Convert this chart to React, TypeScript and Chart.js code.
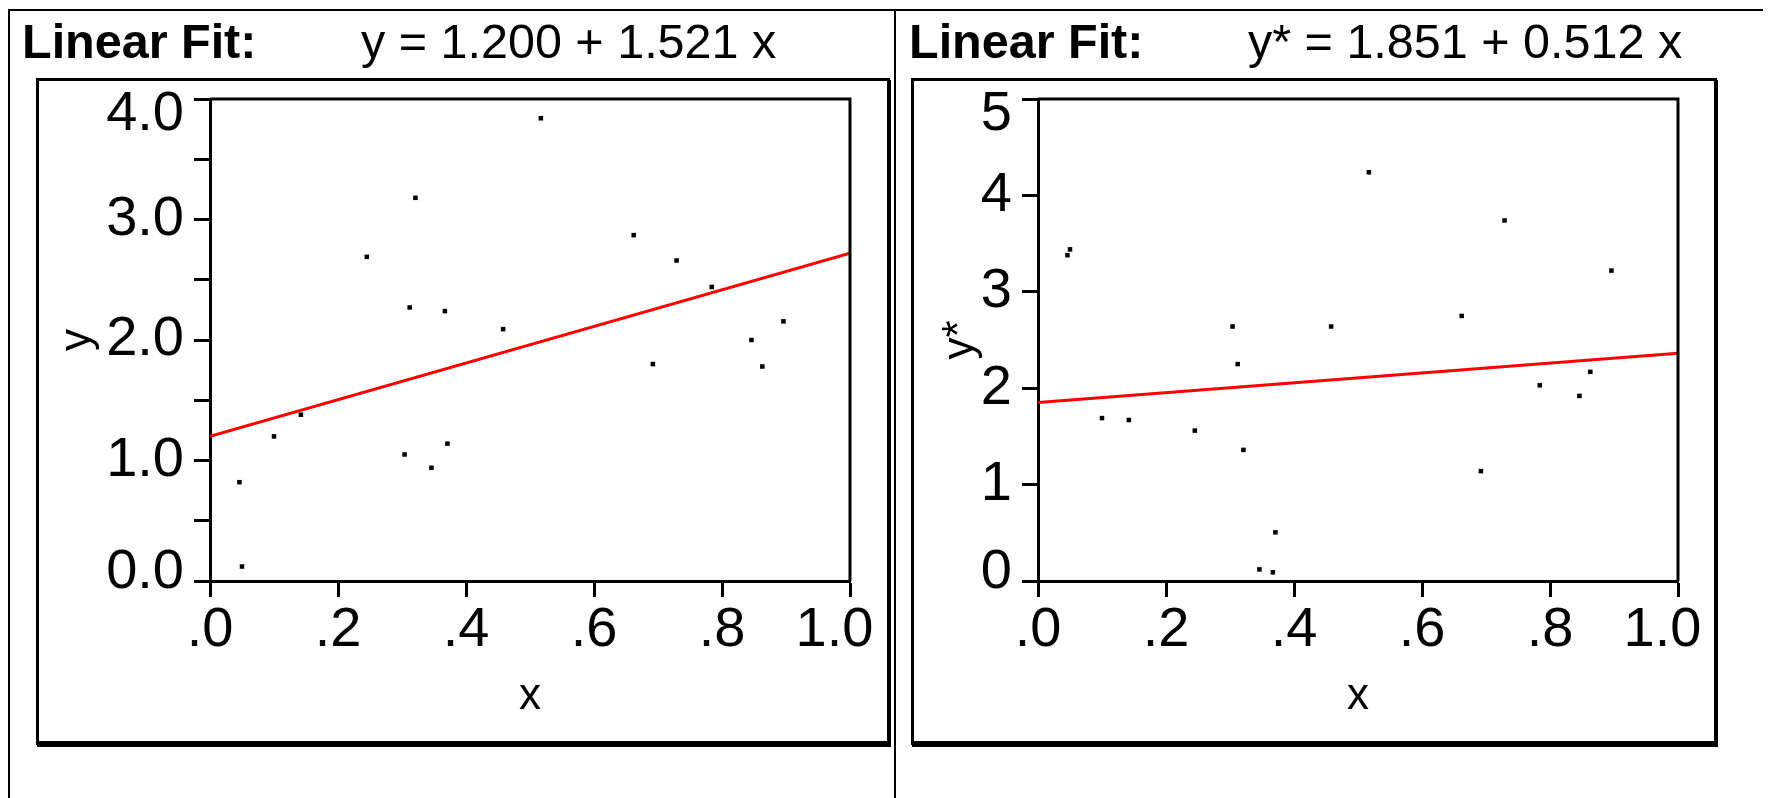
import React, { useEffect, useRef } from 'react';
import { Chart, registerables } from 'chart.js';

Chart.register(...registerables);

// ---- data ----
const xValues = [0.046, 0.050, 0.100, 0.142, 0.245, 0.304, 0.312, 0.321, 0.346, 0.367, 0.371, 0.458, 0.517, 0.662, 0.692, 0.729, 0.784, 0.846, 0.863, 0.896];
const yValues = [0.82, 0.12, 1.20, 1.38, 2.69, 1.05, 2.27, 3.18, 0.94, 2.24, 1.14, 2.09, 3.84, 2.87, 1.80, 2.66, 2.44, 2.00, 1.78, 2.155];
const yStarValues = [3.38, 3.44, 1.69, 1.67, 1.56, 2.64, 2.25, 1.36, 0.12, 0.09, 0.505, 2.64, 4.24, 2.75, 1.14, 3.74, 2.03, 1.92, 2.17, 3.22];

const fitX = [0, 1];
const fitY = [1.200, 2.721];
const fitYStar = [1.851, 2.363];

const xTickLabels = ['.0', '.2', '.4', '.6', '.8', '1.0'];
const yTickLabels = ['0.0', '1.0', '2.0', '3.0', '4.0'];
const yStarTickLabels = ['0', '1', '2', '3', '4', '5'];

const headingLeft = 'Linear Fit:';
const equationLeft = 'y = 1.200 + 1.521 x';
const equationRight = 'y* = 1.851 + 0.512 x';

const FONT = "'Liberation Sans', Arial, Helvetica, sans-serif";

const framePlugin = {
  id: 'frameTopRight',
  afterDatasetsDraw(chart: any) {
    const { ctx, chartArea } = chart;
    const { left, top, right, bottom } = chartArea;
    ctx.save();
    ctx.strokeStyle = '#000';
    ctx.lineWidth = 3;
    ctx.beginPath();
    ctx.moveTo(left, top);
    ctx.lineTo(right, top);
    ctx.lineTo(right, bottom);
    ctx.stroke();
    ctx.restore();
  },
};

interface PanelCfg {
  ys: number[];
  fit: number[];
  yMax: number;
  yStep: number;
  yLabels: string[];
  yTitle: string;
  yAxisWidth: number;
  yTitlePad: number;
  padRight: number;
}

function makeConfig(p: PanelCfg): any {
  const lastX = xTickLabels.length - 1;
  return {
    type: 'scatter',
    data: {
      datasets: [
        {
          label: 'fit',
          data: fitX.map((x, i) => ({ x, y: p.fit[i] })),
          showLine: true,
          borderColor: '#ff0000',
          borderWidth: 3,
          pointRadius: 0,
          fill: false,
          order: 2,
        },
        {
          label: 'points',
          data: xValues.map((x, i) => ({ x, y: p.ys[i] })),
          pointRadius: 3.2,
          pointStyle: 'rect',
          backgroundColor: '#000',
          borderColor: '#000',
          borderWidth: 0,
          order: 1,
        },
      ],
    },
    options: {
      animation: false,
      responsive: false,
      devicePixelRatio: 1,
      events: [],
      layout: { padding: { left: 0, right: p.padRight, top: 18, bottom: 0 } },
      plugins: { legend: { display: false }, tooltip: { enabled: false } },
      scales: {
        x: {
          type: 'linear',
          position: 'bottom',
          min: 0,
          max: 1,
          ticks: {
            stepSize: 0.2,
            autoSkip: false,
            maxRotation: 0,
            padding: 0,
            color: '#000',
            font: { family: FONT, size: 56 },
            callback: (_v: any, i: number) => (i === lastX ? xTickLabels[i] + '  ' : xTickLabels[i]),
          },
          grid: {
            drawOnChartArea: false,
            drawTicks: true,
            tickLength: 16,
            tickWidth: 3,
            tickColor: '#000',
            color: '#000',
          },
          border: { display: true, color: '#000', width: 3 },
          title: {
            display: true,
            text: 'x',
            color: '#000',
            font: { family: FONT, size: 44 },
            padding: { top: 0, bottom: 18 },
          },
          afterFit: (s: any) => {
            s.height = 160;
            s.paddingLeft = 0;
            s.paddingRight = 0;
          },
        },
        y: {
          type: 'linear',
          position: 'left',
          min: 0,
          max: p.yMax,
          ticks: {
            stepSize: p.yStep,
            autoSkip: false,
            padding: 10,
            color: '#000',
            font: (ctx: any) => {
              const v = ctx.tick ? ctx.tick.value : null;
              if (v === p.yMax) return { family: FONT, size: 56, lineHeight: '32px' };
              if (v === 0) return { family: FONT, size: 56, lineHeight: '16px' };
              return { family: FONT, size: 56 };
            },
            callback: (v: any) => {
              if (!Number.isInteger(v)) return '';
              const lbl = p.yLabels[v];
              if (v === p.yMax) return ['', lbl];
              if (v === 0) return [lbl, ''];
              return lbl;
            },
          },
          grid: {
            drawOnChartArea: false,
            drawTicks: true,
            tickLength: 16,
            tickWidth: 3,
            tickColor: '#000',
            color: '#000',
          },
          border: { display: true, color: '#000', width: 3 },
          title: {
            display: true,
            text: p.yTitle,
            color: '#000',
            font: { family: FONT, size: 44 },
            padding: { top: p.yTitlePad, bottom: 0 },
          },
          afterFit: (s: any) => {
            s.width = p.yAxisWidth;
            s.paddingTop = 0;
            s.paddingBottom = 0;
          },
        },
      },
    },
    plugins: [framePlugin],
  };
}

function ChartPanel({ cfg, width, height, left, top }: { cfg: PanelCfg; width: number; height: number; left: number; top: number }) {
  const ref = useRef<HTMLCanvasElement | null>(null);
  useEffect(() => {
    if (!ref.current) return;
    const chart = new Chart(ref.current, makeConfig(cfg));
    return () => chart.destroy();
  }, []);
  return (
    <canvas
      ref={ref}
      width={width}
      height={height}
      style={{ position: 'absolute', left, top, width, height, display: 'block' }}
    />
  );
}

const leftCfg: PanelCfg = {
  ys: yValues,
  fit: fitY,
  yMax: 4,
  yStep: 0.5,
  yLabels: yTickLabels,
  yTitle: 'y',
  yAxisWidth: 171,
  yTitlePad: 12,
  padRight: 37,
};

const rightCfg: PanelCfg = {
  ys: yStarValues,
  fit: fitYStar,
  yMax: 5,
  yStep: 1,
  yLabels: yStarTickLabels,
  yTitle: 'y*',
  yAxisWidth: 124,
  yTitlePad: 20,
  padRight: 36,
};

export default function App() {
  useEffect(() => {
    document.documentElement.style.overflow = 'hidden';
    document.body.style.overflow = 'hidden';
  }, []);

  const headStyle: React.CSSProperties = {
    position: 'absolute',
    top: 9,
    fontFamily: FONT,
    fontSize: 48.5,
    lineHeight: '48px',
    color: '#000',
    whiteSpace: 'nowrap',
    margin: 0,
  };
  const boxStyle: React.CSSProperties = {
    position: 'absolute',
    top: 70,
    height: 667,
    boxSizing: 'border-box',
    borderStyle: 'solid',
    borderColor: '#000',
    borderWidth: '3px 3px 4px 3px',
    boxShadow: '1px 2px 0 0 #000',
  };
  return (
    <div style={{ position: 'relative', width: 1763, height: 790, overflow: 'hidden', background: '#fff' }}>
      {/* table lines */}
      <div style={{ position: 'absolute', left: 0, top: 1, width: 1763, height: 2, background: '#000' }} />
      <div style={{ position: 'absolute', left: 0, top: 1, width: 2, height: 789, background: '#000' }} />
      <div style={{ position: 'absolute', left: 886, top: 1, width: 2, height: 789, background: '#000' }} />

      {/* headings */}
      <div style={{ ...headStyle, left: 14, fontWeight: 'bold' }}>{headingLeft}</div>
      <div style={{ ...headStyle, left: 353 }}>{equationLeft}</div>
      <div style={{ ...headStyle, left: 901, fontWeight: 'bold' }}>{headingLeft}</div>
      <div style={{ ...headStyle, left: 1240 }}>{equationRight}</div>

      {/* inner boxes */}
      <div style={{ ...boxStyle, left: 28, width: 854 }} />
      <div style={{ ...boxStyle, left: 903, width: 806 }} />

      <ChartPanel cfg={leftCfg} left={31} top={73} width={848} height={660} />
      <ChartPanel cfg={rightCfg} left={906} top={73} width={800} height={660} />
    </div>
  );
}
